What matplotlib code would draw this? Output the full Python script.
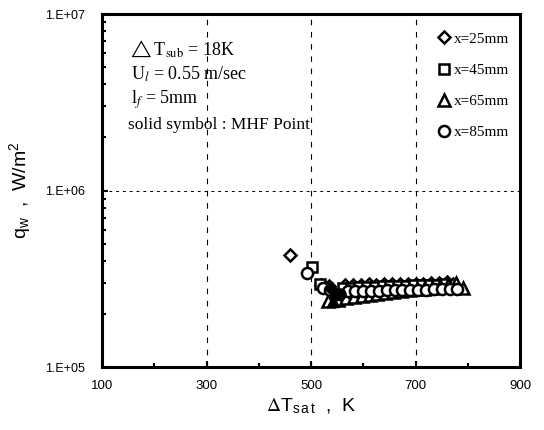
import matplotlib
matplotlib.use("Agg")
import matplotlib.pyplot as plt
from matplotlib.ticker import FixedLocator, LogLocator, NullFormatter

plt.rcParams["mathtext.fontset"] = "stix"

# ---- data ----
T_25 = [460, 520, 535, 565, 580, 595, 610, 625, 640, 655, 670, 685, 700, 715, 730, 745, 760, 772]
q_25 = [4.3e5, 2.92e5, 2.88e5, 2.92e5, 2.93e5, 2.92e5, 2.94e5, 2.93e5, 2.95e5, 2.94e5, 2.96e5,
        2.95e5, 2.97e5, 2.96e5, 2.98e5, 2.99e5, 3.02e5, 2.96e5]
T_45 = [501, 518, 530, 562, 577, 592, 607, 622, 637, 652, 667, 682, 697, 712, 727, 742, 757]
q_45 = [3.7e5, 2.95e5, 2.82e5, 2.8e5, 2.82e5, 2.83e5, 2.84e5, 2.85e5, 2.86e5, 2.86e5, 2.88e5,
        2.88e5, 2.9e5, 2.9e5, 2.92e5, 2.93e5, 2.95e5]
T_65 = [532, 552, 567, 582, 597, 612, 627, 642, 657, 672, 687, 702, 717, 732, 747, 762, 777, 790]
q_65 = [2.38e5, 2.4e5, 2.45e5, 2.48e5, 2.52e5, 2.55e5, 2.58e5, 2.62e5, 2.65e5, 2.68e5, 2.72e5,
        2.75e5, 2.78e5, 2.82e5, 2.86e5, 2.9e5, 3.0e5, 2.82e5]
T_85 = [493, 522, 537, 570, 585, 600, 615, 630, 645, 660, 675, 690, 705, 720, 735, 750, 765, 780]
q_85 = [3.4e5, 2.8e5, 2.72e5, 2.7e5, 2.7e5, 2.71e5, 2.7e5, 2.71e5, 2.72e5, 2.72e5, 2.73e5,
        2.73e5, 2.74e5, 2.74e5, 2.75e5, 2.75e5, 2.76e5, 2.76e5]
# MHF points (solid symbols)
mhf_T = [538, 548, 542, 556]
mhf_q = [2.78e5, 2.55e5, 2.36e5, 2.58e5]

labels = ["x=25mm", "x=45mm", "x=65mm", "x=85mm"]
xticks = [100, 300, 500, 700, 900]
yticks = [1e5, 1e6, 1e7]
ytick_labels = ["1.E+05", "1.E+06", "1.E+07"]

fig = plt.figure(figsize=(5.44, 4.30), dpi=100)
ax = fig.add_axes([0.1875, 0.1465, 0.7685, 0.8209])

series = [(T_25, q_25, "D", 6.5), (T_45, q_45, "s", 7.5), (T_65, q_65, "^", 8.0), (T_85, q_85, "o", 8.0)]
handles = []
for (T, q, m, ms), lab in zip(series, labels):
    h, = ax.plot(T, q, linestyle="none", marker=m, markersize=ms, markerfacecolor="white",
                 markeredgecolor="black", markeredgewidth=1.8, label=lab, zorder=3)
    handles.append(h)
for (T, q, m, ms), xt, yq in zip(series, mhf_T, mhf_q):
    ax.plot([xt], [yq], linestyle="none", marker=m, markersize=ms, markerfacecolor="black",
            markeredgecolor="black", zorder=4)

ax.set_yscale("log")
ax.set_xlim(100, 900)
ax.set_ylim(1e5, 1e7)
ax.xaxis.set_major_locator(FixedLocator(xticks))
ax.xaxis.set_minor_locator(FixedLocator([200, 400, 600, 800]))
ax.set_xticklabels([str(v) for v in xticks], family="Liberation Sans", fontsize=9.5)
ax.yaxis.set_major_locator(FixedLocator(yticks))
ax.set_yticklabels(ytick_labels, family="Liberation Sans", fontsize=9)
ax.yaxis.set_minor_locator(LogLocator(base=10, subs=[2, 3, 4, 5, 6, 7, 8, 9]))
ax.yaxis.set_minor_formatter(NullFormatter())
ax.tick_params(which="both", direction="in", top=False, right=False, width=1.5)
ax.tick_params(axis="x", which="major", length=4, pad=9)
ax.tick_params(axis="y", which="major", length=4, pad=12)
ax.tick_params(which="minor", length=3)
for s in ax.spines.values():
    s.set_linewidth(2.2)

for xv in [300, 500, 700]:
    ax.axvline(xv, color="black", linestyle=(0, (5, 6)), linewidth=0.8, zorder=1)
ax.axhline(1e6, color="black", linestyle=(0, (3, 4)), linewidth=0.7, zorder=1)

ax.set_xlabel(r"$\Delta\mathregular{T}_{\mathregular{s\,a\,t}}$  ,  K", family="Liberation Sans",
              fontsize=14, labelpad=4)
ax.set_ylabel(r"$\mathregular{q_w}$  ,  W/$\mathregular{m^2}$", family="Liberation Sans",
              fontsize=14, labelpad=9)

fam = ["Liberation Serif", "DejaVu Sans"]
ax.text(0.062, 0.885, "$\\triangle$T$_{\\mathrm{sub}}$ = 18K", transform=ax.transAxes,
        family=fam, fontsize=13)
ax.text(0.07, 0.815, "U$_{l}$ = 0.55 m/sec", transform=ax.transAxes, family=fam, fontsize=13)
ax.text(0.07, 0.745, "l$_{f}$ = 5mm", transform=ax.transAxes, family=fam, fontsize=13)
ax.text(0.062, 0.675, "solid symbol : MHF Point", transform=ax.transAxes, family=fam, fontsize=12.5)

leg = ax.legend(handles=handles, loc="upper right", bbox_to_anchor=(0.995, 0.975), frameon=False,
                prop={"family": "Liberation Serif", "size": 11}, handlelength=0.6,
                handletextpad=0.3, labelspacing=1.15, borderaxespad=0.2)

fig.savefig("out.png", dpi=100)
